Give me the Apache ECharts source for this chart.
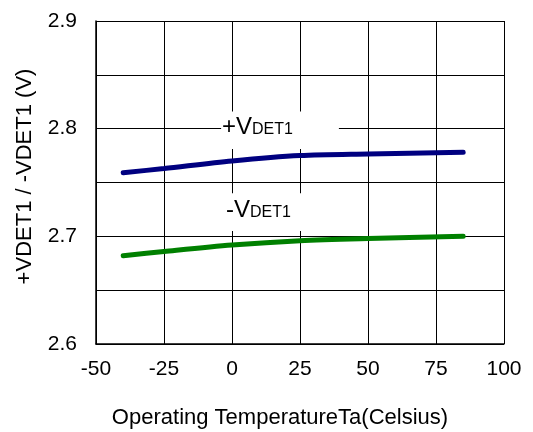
<!DOCTYPE html>
<html>
<head>
<meta charset="utf-8">
<script src="https://cdn.jsdelivr.net/npm/echarts@6/dist/echarts.min.js"></script>
<style>
  html, body { margin: 0; padding: 0; background: #fff; }
  #chart { width: 533px; height: 432px; }
</style>
</head>
<body>
<div id="chart"></div>
<script>
// Detector threshold voltage versus ambient temperature
const temperatures = [-40, -25, 0, 25, 50, 85];
const plusVdet1 = [2.759, 2.763, 2.770, 2.775, 2.7765, 2.778];
const minusVdet1 = [2.682, 2.686, 2.692, 2.696, 2.698, 2.700];
const xTicks = [-50, -25, 0, 25, 50, 75, 100];
const yTicks = ['2.6', '2.7', '2.8', '2.9'];

const FONT = '"Liberation Sans", Arial, sans-serif';

const chart = echarts.init(document.getElementById('chart'), null, { renderer: 'canvas' });

function pairs(xs, ys) {
  return xs.map((x, i) => [x, ys[i]]);
}

const option = {
  animation: false,
  backgroundColor: '#fff',
  grid: { left: 96, right: 29, top: 21, bottom: 88, containLabel: false, outerBoundsMode: 'none' },
  xAxis: {
    type: 'value',
    min: xTicks[0],
    max: xTicks[xTicks.length - 1],
    interval: 25,
    name: 'Operating TemperatureTa(Celsius)',
    nameLocation: 'middle',
    nameGap: 63,
    nameTextStyle: { fontFamily: FONT, fontSize: 22, color: '#000', padding: [0, 40, 0, 0] },
    axisLine: { show: true, onZero: false, lineStyle: { color: '#000', width: 1.5 } },
    axisTick: { show: false },
    axisLabel: { fontFamily: FONT, fontSize: 21, color: '#000', margin: 15 },
    splitLine: { show: true, lineStyle: { color: '#000', width: 1 } }
  },
  yAxis: {
    type: 'value',
    min: 2.6,
    max: 2.9,
    interval: 0.05,
    name: '+VDET1 / -VDET1 (V)',
    nameLocation: 'middle',
    nameGap: 60,
    nameTextStyle: { fontFamily: FONT, fontSize: 22, color: '#000', padding: [0, 0, 0, 12] },
    axisLine: { show: true, onZero: false, lineStyle: { color: '#000', width: 1.5 } },
    axisTick: { show: false },
    axisLabel: {
      fontFamily: FONT, fontSize: 21, color: '#000', margin: 19,
      formatter: function (v) {
        const s = v.toFixed(1);
        return Math.round(v * 100) % 10 === 0 && yTicks.indexOf(s) >= 0 ? s : '';
      }
    },
    splitLine: { show: true, lineStyle: { color: '#000', width: 1 } }
  },
  series: [
    {
      name: '+VDET1',
      type: 'line',
      data: pairs(temperatures, plusVdet1),
      smooth: 0.3,
      showSymbol: false,
      lineStyle: { color: '#000080', width: 5, cap: 'round' },
      z: 5
    },
    {
      name: '-VDET1',
      type: 'line',
      data: pairs(temperatures, minusVdet1),
      smooth: 0.3,
      showSymbol: false,
      lineStyle: { color: '#008000', width: 5, cap: 'round' },
      z: 5
    }
  ]
};

chart.setOption(option);

// Curve labels: white box over the grid, "+V"/"-V" with a smaller "DET1"
const measureCtx = document.createElement('canvas').getContext('2d');
function textWidth(str, size) {
  measureCtx.font = size + 'px ' + FONT;
  return measureCtx.measureText(str).width;
}

const curveLabels = [
  { sign: '+V', box: [-4, 2.816, 39.3, 2.781], baseline: 2.7938, textX: -3.7 },
  { sign: '-V', box: [-4, 2.740, 39.3, 2.705], baseline: 2.7168, textX: -2.2 }
];

const BIG = 24, SMALL = 16;
const graphics = [];
curveLabels.forEach(function (lab) {
  const p1 = chart.convertToPixel({ gridIndex: 0 }, [lab.box[0], lab.box[1]]);
  const p2 = chart.convertToPixel({ gridIndex: 0 }, [lab.box[2], lab.box[3]]);
  const base = chart.convertToPixel({ gridIndex: 0 }, [lab.textX, lab.baseline]);
  graphics.push({
    type: 'rect',
    shape: { x: p1[0], y: p1[1], width: p2[0] - p1[0], height: p2[1] - p1[1] },
    style: { fill: '#fff' },
    z: 10
  });
  const bigW = textWidth(lab.sign, BIG);
  graphics.push({
    type: 'text',
    x: base[0], y: base[1] - BIG * 0.33,
    style: { text: lab.sign, font: BIG + 'px ' + FONT, fill: '#000', align: 'left', verticalAlign: 'middle' },
    z: 11
  });
  graphics.push({
    type: 'text',
    x: base[0] + bigW, y: base[1] - SMALL * 0.33,
    style: { text: 'DET1', font: SMALL + 'px ' + FONT, fill: '#000', align: 'left', verticalAlign: 'middle' },
    z: 11
  });
});

chart.setOption({ graphic: graphics });
</script>
</body>
</html>
